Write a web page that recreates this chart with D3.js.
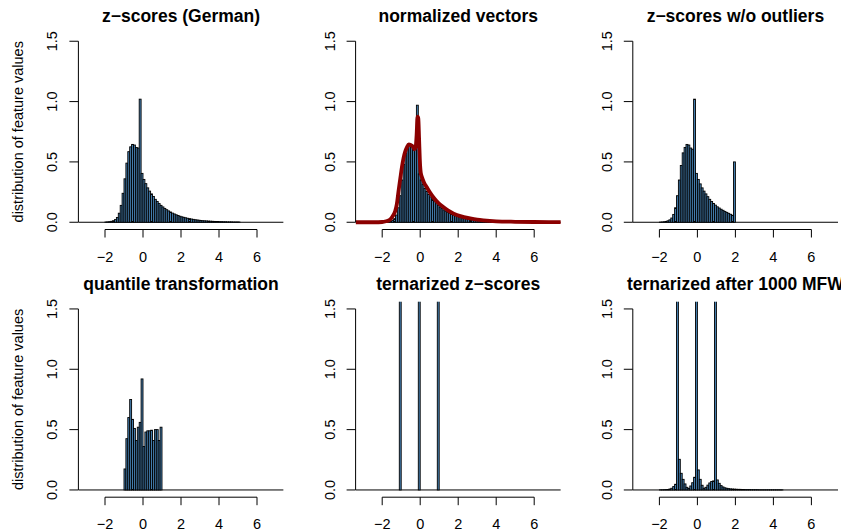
<!DOCTYPE html>
<html><head><meta charset="utf-8">
<script src="https://cdn.jsdelivr.net/npm/d3@7"></script>
<style>body{margin:0;background:#fff}svg{display:block}text{font-family:"Liberation Sans",Arial,Helvetica,sans-serif;fill:#000}</style>
</head><body>
<svg id="chart" width="841" height="531"></svg>
<script>
const panelTitles = ["z\u2212scores (German)","normalized vectors","z\u2212scores w/o outliers","quantile transformation","ternarized z\u2212scores","ternarized after 1000 MFW"];
const yAxisTitle = "distribution of feature values";
const xTicks = [-2,0,2,4,6];
const yTicks = [0,0.5,1,1.5];
const yTickLabels = ["0.0","0.5","1.0","1.5"];
const binWidth = 0.1;
const binStarts = [-2.0,-2.0,-2.0,-1.0,-1.1,-2.0];

const zscoresGerman = [0.002,0.003,0.005,0.008,0.013,0.022,0.04,0.075,0.14,0.24,0.36,0.49,0.585,0.625,0.645,0.64,0.62,0.615,1.02,0.405,0.355,0.32,0.285,0.258,0.235,0.214,0.19,0.172,0.155,0.14,0.127,0.115,0.104,0.094,0.085,0.076,0.069,0.062,0.056,0.05,0.045,0.041,0.037,0.033,0.03,0.027,0.024,0.021,0.019,0.017,0.015,0.013,0.012,0.011,0.01,0.009,0.008,0.007,0.006,0.006,0.005,0.005,0.004,0.004,0.003,0.003,0.003,0.002,0.002,0.002,0.002];
const normalizedVectors = [0.001,0.002,0.003,0.005,0.008,0.015,0.03,0.06,0.12,0.22,0.35,0.48,0.57,0.62,0.64,0.645,0.63,0.61,0.97,0.40,0.35,0.315,0.28,0.255,0.23,0.21,0.188,0.17,0.153,0.138,0.125,0.113,0.102,0.092,0.083,0.075,0.067,0.06,0.054,0.048,0.043,0.039,0.035,0.031,0.028,0.025,0.022,0.02,0.018,0.016,0.014,0.012,0.011,0.01,0.009,0.008,0.007,0.006,0.005,0.005,0.004,0.004,0.003,0.003,0.003,0.002,0.002,0.002,0.001,0.001,0.001];
const zscoresNoOutliers = [0.001,0.002,0.004,0.007,0.012,0.02,0.035,0.065,0.12,0.22,0.35,0.47,0.575,0.62,0.645,0.64,0.615,0.605,1.02,0.405,0.355,0.318,0.285,0.258,0.235,0.212,0.19,0.172,0.156,0.142,0.128,0.118,0.108,0.099,0.09,0.082,0.074,0.066,0.058,0.5];
const quantileTransformed = [0.174,0.425,0.60,0.75,0.585,0.51,0.41,0.52,0.56,0.92,0.36,0.48,0.49,0.49,0.495,0.41,0.50,0.50,0.41,0.52];
const ternarizedZ = [3.33,0,0,0,0,0,0,0,0,0,3.34,0,0,0,0,0,0,0,0,0,3.33];
const ternarized1000 = [0.001,0.001,0.002,0.003,0.004,0.008,0.014,0.028,0.047,2.6,0.254,0.138,0.088,0.05,0.022,0.012,0.033,0.06,0.105,2.5,0.166,0.088,0.039,0.014,0.022,0.04,0.058,0.07,0.075,2.4,0.083,0.055,0.036,0.025,0.018,0.014,0.011,0.009,0.008,0.007,0.006,0.005,0.005,0.004,0.004,0.003,0.003,0.003,0.002,0.002,0.002,0.002,0.001,0.001,0.001,0.001,0.001,0.001,0.001,0.001,0.001,0.001,0.001,0.001,0.001];

const densityX = [-3.4,-2.4,-2.0,-1.8,-1.6,-1.45,-1.32,-1.23,-1.14,-1.05,-0.96,-0.88,-0.79,-0.7,-0.6,-0.5,-0.4,-0.3,-0.24,-0.19,-0.14,-0.1,-0.06,-0.02,0.03,0.1,0.2,0.35,0.5,0.7,0.95,1.23,1.5,1.93,2.3,2.63,3.0,3.33,4.0,5.0,6.0,7.4];
const densityY = [0,0,0.002,0.008,0.02,0.05,0.09,0.15,0.26,0.36,0.46,0.53,0.585,0.62,0.645,0.64,0.63,0.605,0.62,0.72,0.875,0.86,0.7,0.52,0.41,0.37,0.33,0.29,0.25,0.205,0.16,0.125,0.095,0.06,0.043,0.032,0.022,0.016,0.008,0.004,0.002,0.001];

const panelData = [zscoresGerman, normalizedVectors, zscoresNoOutliers, quantileTransformed, ternarizedZ, ternarized1000];

const colPitch = 277.2, rowPitch = 267.7;
const plotLeft = 78.4, plotW = 205.2, plotTop = 34, plotH = 195.5;
const barFill = "#4682b4";

const svg = d3.select("#chart");
const defs = svg.append("defs");

panelData.forEach((vals, p) => {
  const c = p % 3, r = Math.floor(p / 3);
  const ox = c * colPitch, oy = r * rowPitch;
  const x = d3.scaleLinear().domain([-3.4, 7.4]).range([ox + plotLeft, ox + plotLeft + plotW]);
  const y = d3.scaleLinear().domain([-0.06, 1.56]).range([oy + plotTop + plotH, oy + plotTop]);
  const clipId = "clip" + p;
  defs.append("clipPath").attr("id", clipId).append("rect")
    .attr("x", x.range()[0]).attr("y", y.range()[1])
    .attr("width", plotW).attr("height", plotH);
  const g = svg.append("g");
  const plot = g.append("g").attr("clip-path", `url(#${clipId})`);

  plot.append("line")
    .attr("x1", x.range()[0]).attr("x2", x.range()[1])
    .attr("y1", y(0)).attr("y2", y(0))
    .attr("stroke", "#000").attr("stroke-width", 1);

  const bins = vals.map((v, i) => ({x0: binStarts[p] + i * binWidth, h: v})).filter(d => d.h > 0);
  plot.selectAll("rect.bar").data(bins).enter().append("rect")
    .attr("class", "bar")
    .attr("x", d => x(d.x0))
    .attr("width", d => x(d.x0 + binWidth) - x(d.x0))
    .attr("y", d => y(d.h))
    .attr("height", d => y(0) - y(d.h))
    .attr("fill", barFill).attr("stroke", "#000").attr("stroke-width", 0.9);

  if (p === 1) {
    const pts = densityX.map((dx, i) => [dx, densityY[i]]);
    plot.append("path").datum(pts)
      .attr("d", d3.line().x(d => x(d[0])).y(d => y(d[1])).curve(d3.curveMonotoneX))
      .attr("fill", "none").attr("stroke", "#8b0000").attr("stroke-width", 3.8)
      .attr("stroke-linejoin", "round");
  }

  const yb = y.range()[0];
  g.append("line").attr("x1", x(xTicks[0])).attr("x2", x(xTicks[xTicks.length - 1]))
    .attr("y1", yb).attr("y2", yb).attr("stroke", "#000");
  xTicks.forEach(t => {
    g.append("line").attr("x1", x(t)).attr("x2", x(t)).attr("y1", yb).attr("y2", yb + 8).attr("stroke", "#000");
    g.append("text").attr("x", x(t)).attr("y", yb + 32).attr("text-anchor", "middle")
      .attr("font-size", 14.5).text(t < 0 ? "\u2212" + Math.abs(t) : String(t));
  });
  const xl = x.range()[0];
  g.append("line").attr("x1", xl).attr("x2", xl).attr("y1", y(yTicks[0])).attr("y2", y(yTicks[yTicks.length - 1])).attr("stroke", "#000");
  yTicks.forEach((t, i) => {
    g.append("line").attr("x1", xl - 9).attr("x2", xl).attr("y1", y(t)).attr("y2", y(t)).attr("stroke", "#000");
    g.append("text").attr("transform", `translate(${xl - 21},${y(t)}) rotate(-90)`)
      .attr("text-anchor", "middle").attr("font-size", 14.5).text(yTickLabels[i]);
  });
  g.append("text").attr("x", x.range()[0] + plotW / 2).attr("y", oy + plotTop - 12)
    .attr("text-anchor", "middle").attr("font-size", 17.5).attr("font-weight", "bold").text(panelTitles[p]);
  if (c === 0) {
    g.append("text").attr("transform", `translate(${ox + 23},${oy + plotTop + plotH / 2}) rotate(-90)`)
      .attr("text-anchor", "middle").attr("font-size", 14.5).text(yAxisTitle);
  }
});
</script>
</body></html>
